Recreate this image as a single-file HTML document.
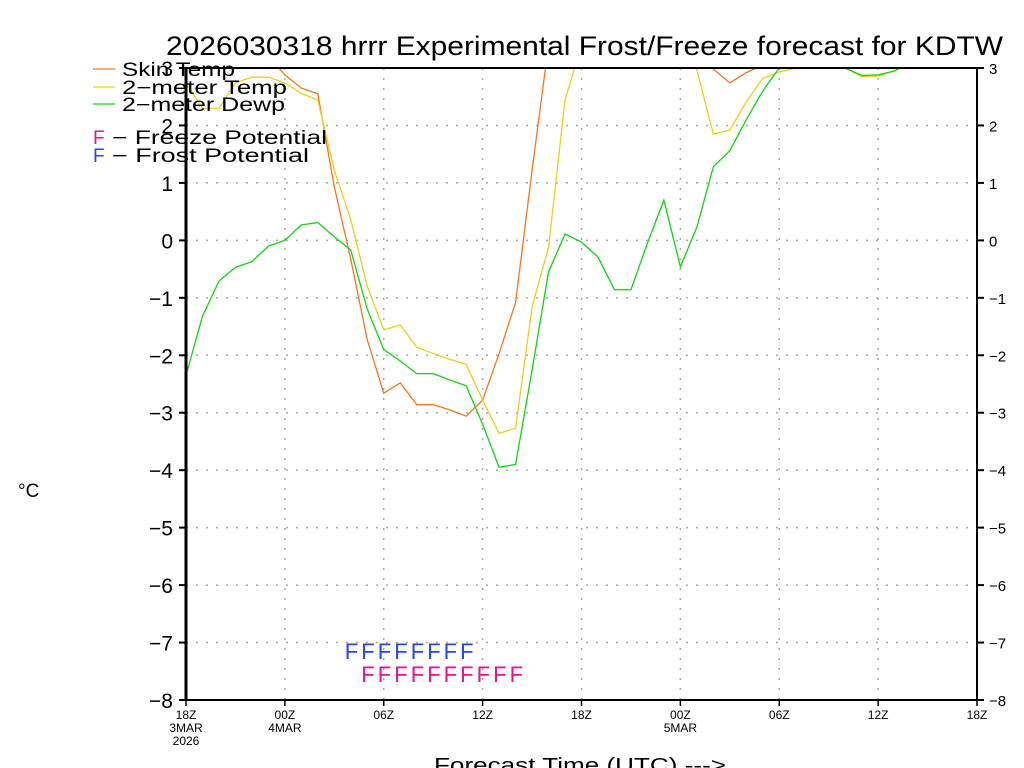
<!DOCTYPE html>
<html><head><meta charset="utf-8"><style>
html,body{margin:0;padding:0;background:#fff;width:1024px;height:768px;overflow:hidden}
text{font-family:"Liberation Sans",sans-serif}
</style></head><body>
<svg id="chart" width="1024" height="768" viewBox="0 0 1024 768" xmlns="http://www.w3.org/2000/svg">
<text x="166" y="55" font-size="27" textLength="837" lengthAdjust="spacingAndGlyphs" fill="#000">2026030318 hrrr Experimental Frost/Freeze forecast for KDTW</text>
<defs><clipPath id="plotclip"><rect x="186" y="68" width="791" height="632"/></clipPath></defs>
<g id="grid"></g>
<g id="series" clip-path="url(#plotclip)"></g>
<g id="axes"></g>
<g id="marks"></g>
<g>
<line x1="93" y1="69" x2="115" y2="69" stroke="#f07820" stroke-width="1.2"/>
<text x="122" y="76" font-size="19" textLength="113" lengthAdjust="spacingAndGlyphs">Skin Temp</text>
<line x1="93" y1="87" x2="115" y2="87" stroke="#e6d21e" stroke-width="1.2"/>
<text x="122" y="94" font-size="19" textLength="165" lengthAdjust="spacingAndGlyphs">2−meter Temp</text>
<line x1="93" y1="104" x2="115" y2="104" stroke="#14d214" stroke-width="1.2"/>
<text x="122" y="111" font-size="19" textLength="163" lengthAdjust="spacingAndGlyphs">2−meter Dewp</text>
<text x="93" y="144" font-size="19" fill="#e6148c">F</text>
<text x="112" y="144" font-size="19" textLength="215" lengthAdjust="spacingAndGlyphs">− Freeze Potential</text>
<text x="93" y="162" font-size="19" fill="#2846e6">F</text>
<text x="112" y="162" font-size="19" textLength="197" lengthAdjust="spacingAndGlyphs">− Frost Potential</text>
</g>
<text x="18" y="497" font-size="19">°C</text>
<text x="434" y="772" font-size="20" textLength="292" lengthAdjust="spacingAndGlyphs">Forecast Time (UTC) ---&gt;</text>
</svg>
<script>
const hours = [];
for (let i = 0; i <= 48; i++) hours.push(i);
const skinTemp = [3.3,3.3,3.3,3.3,3.3,3.2,2.88,2.65,2.55,0.93,-0.33,-1.73,-2.66,-2.48,-2.86,-2.86,-2.95,-3.06,-2.78,-1.97,-1.08,1.22,3.4,3.5,3.5,3.5,3.5,3.5,3.5,3.5,3.4,3.2,2.98,2.74,2.92,3.05,3.2,3.3,3.3,3.3,3.3,3.3,3.3,3.3,3.3,3.3,3.3,3.3,3.3];
const airTemp = [2.74,2.3,2.3,2.74,2.84,2.84,2.74,2.56,2.44,1.22,0.36,-0.8,-1.56,-1.47,-1.86,-1.97,-2.07,-2.16,-2.78,-3.36,-3.27,-1.16,-0.12,2.44,3.4,3.5,3.5,3.5,3.5,3.5,3.3,2.97,1.85,1.92,2.41,2.82,2.93,3.0,3.1,3.1,3.0,2.85,2.86,2.95,3.1,3.2,3.2,3.2,3.2];
const dewPoint = [-2.35,-1.32,-0.71,-0.47,-0.37,-0.1,0.0,0.27,0.31,0.06,-0.17,-1.2,-1.9,-2.1,-2.32,-2.32,-2.43,-2.53,-3.2,-3.95,-3.9,-2.26,-0.55,0.11,-0.03,-0.29,-0.86,-0.86,-0.05,0.7,-0.46,0.23,1.28,1.56,2.1,2.6,3.0,3.1,3.1,3.1,3.0,2.87,2.88,2.95,3.1,3.2,3.2,3.2,3.2];
const frostHours = [10,11,12,13,14,15,16,17];
const freezeHours = [11,12,13,14,15,16,17,18,19,20];
const yTicks = [3,2,1,0,-1,-2,-3,-4,-5,-6,-7,-8];
const xTickHours = [0,6,12,18,24,30,36,42,48];
const xTickLabels = ["18Z","00Z","06Z","12Z","18Z","00Z","06Z","12Z","18Z"];
const xDateLabels = {0:["3MAR","2026"],6:["4MAR"],30:["5MAR"]};

const X0=186,X1=977,Y0=68,Y1=700,YMAX=3,YMIN=-8,HMAX=48;
const xs=h=>X0+(X1-X0)*h/HMAX;
const ys=v=>Y0+(Y1-Y0)*(YMAX-v)/(YMAX-YMIN);
const NS="http://www.w3.org/2000/svg";
function mk(tag,attrs,parent){const e=document.createElementNS(NS,tag);for(const k in attrs)e.setAttribute(k,attrs[k]);parent.appendChild(e);return e;}
const grid=document.getElementById('grid'),axes=document.getElementById('axes'),series=document.getElementById('series'),marks=document.getElementById('marks');

yTicks.forEach(v=>{
  const y=ys(v);
  if(v!==YMAX&&v!==YMIN){const g=mk('line',{x1:X0,x2:X1,y1:y,y2:y,stroke:'#a8a8a8','stroke-width':1.5,'stroke-dasharray':'2,8'},grid);
  
  }
  mk('line',{x1:X0-7,x2:X0,y1:y,y2:y,stroke:'#000','stroke-width':2},axes);
  mk('line',{x1:X1,x2:X1+7,y1:y,y2:y,stroke:'#000','stroke-width':2},axes);
  const lab=v<0?'−'+(-v):''+v;
  const t=mk('text',{x:X0-13,y:y+8,'font-size':21,'text-anchor':'end'},axes);t.textContent=lab;
  
  
  const t2=mk('text',{x:X1+12,y:y+6,'font-size':15},axes);t2.textContent=lab;
  
  
});
xTickHours.forEach((h,i)=>{
  const x=xs(h);
  if(h!==0&&h!==HMAX){const g=mk('line',{x1:x,x2:x,y1:Y0,y2:Y1,stroke:'#a8a8a8','stroke-width':1.5,'stroke-dasharray':'2,8'},grid);
  
  }
  mk('line',{x1:x,x2:x,y1:Y1,y2:Y1+6,stroke:'#000','stroke-width':1.5},axes);
  const t=mk('text',{x:x,y:Y1+19,'font-size':12,'text-anchor':'middle'},axes);t.textContent=xTickLabels[i];
  
  
  (xDateLabels[h]||[]).forEach((d,j)=>{const td=mk('text',{x:x,y:Y1+32+j*13,'font-size':12,'text-anchor':'middle'},axes);td.textContent=d;
  
  });
});
mk('rect',{x:X0,y:Y0,width:X1-X0,height:Y1-Y0,fill:'none',stroke:'#000','stroke-width':2},axes);
mk('line',{x1:X0,x2:X0,y1:Y0,y2:Y1,stroke:'#000','stroke-width':3},axes);

function line(data,color,name){
  const p=mk('polyline',{points:data.map((v,i)=>xs(hours[i])+','+ys(v)).join(' '),fill:'none',stroke:color,'stroke-width':1.3},series);
  
  
}
line(skinTemp,'#f07820','skin-temp-line');
line(airTemp,'#e6d21e','air-temp-line');
line(dewPoint,'#14d214','dewpoint-line');

frostHours.forEach(h=>{const t=mk('text',{x:xs(h)-6,y:659,'font-size':22,fill:'#2846e6'},marks);t.textContent='F';
  
  });
freezeHours.forEach(h=>{const t=mk('text',{x:xs(h)-6,y:682,'font-size':22,fill:'#e6148c'},marks);t.textContent='F';
  
  });
</script>
</body></html>
